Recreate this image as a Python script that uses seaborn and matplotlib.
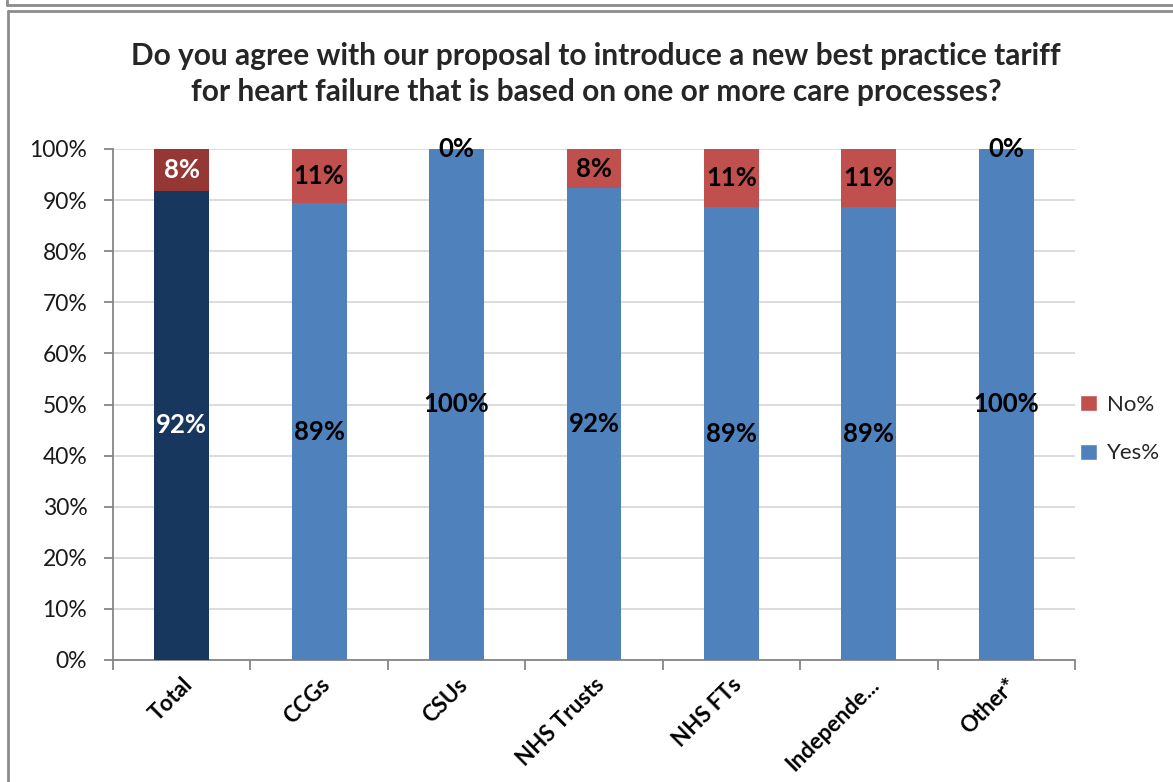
import matplotlib
matplotlib.use("Agg")
import matplotlib.pyplot as plt
from matplotlib.lines import Line2D
from matplotlib.patches import Patch
from matplotlib.ticker import MultipleLocator, FuncFormatter
import seaborn as sns
import pandas as pd

categories = ["Total", "CCGs", "CSUs", "NHS Trusts", "NHS FTs", "Independe...", "Other*"]
yes_pct = [91.8, 89.4, 100.0, 92.3, 88.6, 88.6, 100.0]
no_pct = [8.2, 10.6, 0.0, 7.7, 11.4, 11.4, 0.0]

title = ("Do you agree with our proposal to introduce a new best practice tariff\n"
         "for heart failure that is based on one or more care processes?")

YES_BLUE, YES_NAVY = "#4F81BD", "#17375E"
NO_RED, NO_DARKRED = "#C0504D", "#953735"

sns.set_theme(style="white")
plt.rcParams["font.family"] = ["Lato", "DejaVu Sans"]

df = pd.DataFrame({"cat": categories, "yes": yes_pct, "no": no_pct})
df["top"] = df["yes"] + df["no"]

yes_colors = [YES_NAVY] + [YES_BLUE] * (len(categories) - 1)
no_colors = [NO_DARKRED] + [NO_RED] * (len(categories) - 1)

fig = plt.figure(figsize=(11.73, 7.82), dpi=100)
ax = fig.add_axes([113 / 1173, 1 - 660 / 782, (1075 - 113) / 1173, (660 - 149) / 782])

# stacked bars: full height in red, "yes" share in blue over it
sns.barplot(data=df, x="cat", y="top", hue="cat", palette=no_colors, width=0.4,
            legend=False, ax=ax, saturation=1, zorder=3, linewidth=0)
sns.barplot(data=df, x="cat", y="yes", hue="cat", palette=yes_colors, width=0.4,
            legend=False, ax=ax, saturation=1, zorder=3, linewidth=0)

ax.set_xlim(-0.5, len(categories) - 0.5)
ax.set_ylim(0, 100)
ax.yaxis.set_major_locator(MultipleLocator(10))
ax.yaxis.set_major_formatter(FuncFormatter(lambda v, p: f"{v:.0f}%"))
ax.grid(axis="y", color="#D9D9D9", linewidth=1.3, zorder=0)
ax.set_axisbelow(True)
ax.set_xlabel("")
ax.set_ylabel("")

for s in ["top", "right"]:
    ax.spines[s].set_visible(False)
for s in ["left", "bottom"]:
    ax.spines[s].set_color("#868686")
    ax.spines[s].set_linewidth(1.3)

ax.tick_params(axis="y", which="major", left=True, length=6.5, width=1.3,
               color="#868686", labelsize=16.5, labelcolor="#1a1a1a", pad=12)
# x ticks sit on category boundaries
ax.set_xticks([i - 0.5 for i in range(len(categories) + 1)], minor=True)
ax.tick_params(axis="x", which="minor", bottom=True, length=7, width=1.3, color="#868686")
ax.set_xticks(range(len(categories)))
ax.set_xticklabels(categories, rotation=45, ha="right", rotation_mode="anchor",
                   fontsize=16, fontweight="bold", color="black")
ax.tick_params(axis="x", which="major", bottom=False, pad=4)

# value labels
for i, (y, n) in enumerate(zip(yes_pct, no_pct)):
    col = "white" if i == 0 else "black"
    ax.text(i, y / 2, f"{y:.0f}%", ha="center", va="center", fontsize=18.5,
            fontweight="bold", color=col, zorder=5)
    ax.text(i, y + n / 2, f"{n:.0f}%", ha="center", va="center", fontsize=18.5,
            fontweight="bold", color=col, zorder=5)

handles = [Patch(facecolor=NO_RED, label="No%"), Patch(facecolor=YES_BLUE, label="Yes%")]
fig.legend(handles=handles, loc="center left", bbox_to_anchor=(1060 / 1173, 1 - 429 / 782),
           frameon=False, fontsize=16, handlelength=0.75, handleheight=0.75,
           labelspacing=1.3, handletextpad=0.45)

fig.text(596 / 1173, 1 - 74 / 782, title, ha="center", va="center", fontsize=21.5,
         fontweight="bold", linespacing=1.32)

# chart frame lines
frame = "#8C8C8C"
fig.add_artist(Line2D([7 / 1173, 1], [1 - 4.5 / 782] * 2, color=frame, lw=2, transform=fig.transFigure))
fig.add_artist(Line2D([7 / 1173] * 2, [1 - 4.5 / 782, 1], color=frame, lw=2, transform=fig.transFigure))
fig.add_artist(Line2D([8 / 1173, 1], [1 - 11 / 782] * 2, color=frame, lw=2, transform=fig.transFigure))
fig.add_artist(Line2D([8 / 1173] * 2, [0, 1 - 11 / 782], color=frame, lw=2, transform=fig.transFigure))

fig.savefig("out.png", dpi=100, facecolor="white")
